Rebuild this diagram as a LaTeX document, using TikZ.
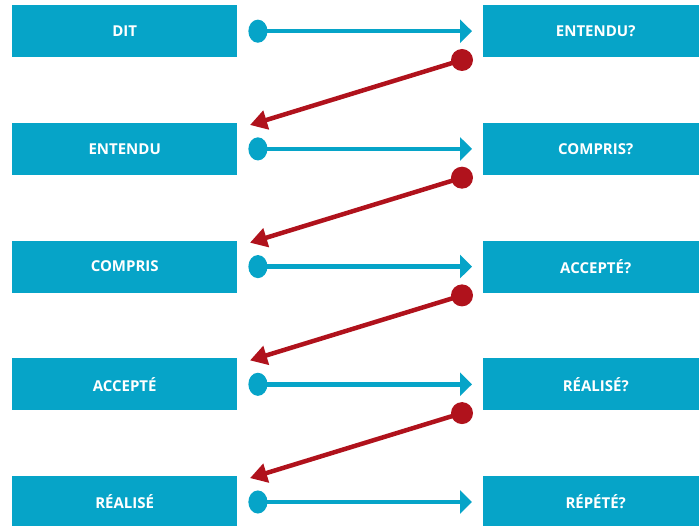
\documentclass[tikz,border=0pt]{standalone}
\usepackage{fontspec}
\setmainfont{Open Sans}
\usetikzlibrary{arrows.meta}
\definecolor{boxblue}{HTML}{06A4C8}
\definecolor{arrred}{HTML}{B0121C}
\tikzset{
  lbl/.style={fill=boxblue, text=white, font=\fontsize{15}{18}\selectfont\bfseries, minimum width=225pt, minimum height=52pt, inner sep=0pt, anchor=north west},
  bluearrow/.style={draw=boxblue, line width=4.5pt, {Circle[length=19pt,width=23pt]}-{Triangle[length=12pt,width=23pt]}, shorten <=11pt, shorten >=11pt},
  redarrow/.style={draw=arrred, line width=4.5pt, -{Triangle[length=17pt,width=19pt]}},
  reddot/.style={fill=arrred}
}
\begin{document}
\begin{tikzpicture}[x=1pt,y=-1pt]
\useasboundingbox (0,0) rectangle (699,526);
\foreach \i/\lt/\rt [count=\k from 0] in {1/DIT/ENTENDU?, 2/ENTENDU/COMPRIS?, 3/COMPRIS/ACCEPTÉ?, 4/ACCEPTÉ/RÉALISÉ?, 5/RÉALISÉ/RÉPÉTÉ?}{
  \node[lbl] (L\i) at (12, 5+117.7*\k) {\lt};
  \node[lbl] (R\i) at (483, 5+117.7*\k) {\rt};
  \draw[bluearrow] (L\i.east) -- (R\i.west);
}
\foreach \i/\j [count=\k from 0] in {1/2,2/3,3/4,4/5}{
  \coordinate (rs\i) at (462, 60+117.7*\k);
  \coordinate (rt\j) at (250, 125+117.7*\k);
  \draw[redarrow] (rs\i) -- (rt\j);
  \fill[reddot] (rs\i) circle (11pt);
}
\end{tikzpicture}
\end{document}
